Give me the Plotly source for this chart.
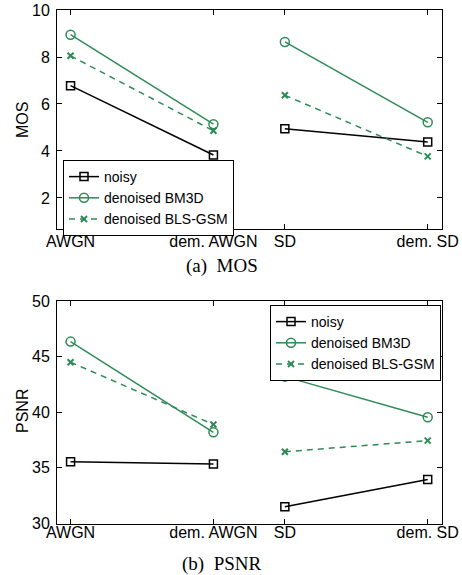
import plotly.graph_objects as go

# Test conditions along the horizontal axis
categories = ["AWGN", "dem. AWGN", "SD", "dem. SD"]
series_names = ["noisy", "denoised BM3D", "denoised BLS-GSM"]

# Mean opinion scores
mos_noisy = [6.78, 3.83, 4.95, 4.38]
mos_bm3d = [8.95, 5.14, 8.64, 5.22]
mos_blsgsm = [8.05, 4.86, 6.37, 3.77]

# PSNR (dB)
psnr_noisy = [35.55, 35.35, 31.5, 33.95]
psnr_bm3d = [46.35, 38.2, 43.2, 39.55]
psnr_blsgsm = [44.5, 38.9, 36.45, 37.45]

# Horizontal placement: AWGN pair and SD pair, each pair joined by a line
cat_x = [1.0, 2.0, 2.5, 3.5]

GREEN = "#2e8b57"
FONT = "Liberation Sans, Arial, sans-serif"
SERIF = "Liberation Serif, Times New Roman, serif"

styles = [
    dict(color="black", dash="solid", symbol="square-open", size=8, mlw=1.5),
    dict(color=GREEN, dash="solid", symbol="circle-open", size=9, mlw=1.5),
    dict(color=GREEN, dash="6px,5px", symbol="x-thin", size=6, mlw=2),
]


def pairs(vals):
    xs = [cat_x[0], cat_x[1], None, cat_x[2], cat_x[3]]
    ys = [vals[0], vals[1], None, vals[2], vals[3]]
    return xs, ys


fig = go.Figure()

panels = [
    ("x", "y", "legend", [mos_noisy, mos_bm3d, mos_blsgsm]),
    ("x2", "y2", "legend2", [psnr_noisy, psnr_bm3d, psnr_blsgsm]),
]

for xa, ya, lg, data in panels:
    for name, vals, st in zip(series_names, data, styles):
        xs, ys = pairs(vals)
        fig.add_trace(go.Scatter(
            x=xs, y=ys, name=name, mode="lines+markers",
            xaxis=xa, yaxis=ya, legend=lg, connectgaps=False,
            line=dict(color=st["color"], width=1.5, dash=st["dash"]),
            marker=dict(symbol=st["symbol"], size=st["size"], color=st["color"],
                        line=dict(color=st["color"], width=st["mlw"])),
        ))

W, H = 462, 575
x_dom = [57 / W, 442 / W]
top_dom = [1 - 229 / H, 1 - 10 / H]
bot_dom = [1 - 523.5 / H, 1 - 301 / H]

common_x = dict(
    range=[0.905, 3.6], tickvals=cat_x, ticktext=categories,
    ticks="inside", ticklen=5, tickcolor="black", showline=True,
    linecolor="black", linewidth=1, mirror="ticks", showgrid=False,
    zeroline=False, tickfont=dict(family=FONT, size=16, color="black"),
    domain=x_dom, automargin=False,
)
common_y = dict(
    ticks="inside", ticklen=5, tickcolor="black", showline=True,
    linecolor="black", linewidth=1, mirror="ticks", showgrid=False,
    zeroline=False, tickfont=dict(family=FONT, size=16, color="black"),
    ticklabelstandoff=3, automargin=False,
)

legend_common = dict(
    bgcolor="white", bordercolor="black", borderwidth=1,
    font=dict(family=FONT, size=14, color="black"),
    itemwidth=30, tracegroupgap=0,
)


def label(text, x, y, size=16, family=FONT, angle=0):
    return dict(text=text, x=x / W, y=1 - y / H, xref="paper", yref="paper",
                xanchor="center", yanchor="middle", textangle=angle,
                showarrow=False, font=dict(family=family, size=size, color="black"))


fig.update_layout(
    width=W, height=H,
    margin=dict(l=0, r=0, t=0, b=0, autoexpand=False),
    paper_bgcolor="white", plot_bgcolor="white",
    showlegend=True,
    xaxis=dict(common_x, anchor="y", ticklabelstandoff=-2),
    yaxis=dict(common_y, anchor="x", domain=top_dom, range=[0.68, 10],
               tickvals=[2, 4, 6, 8, 10]),
    xaxis2=dict(common_x, anchor="y2", ticklabelstandoff=-6),
    yaxis2=dict(common_y, anchor="x2", domain=bot_dom, range=[30, 50],
                tickvals=[30, 35, 40, 45, 50]),
    legend=dict(legend_common, x=63 / W, y=1 - 160 / H,
                xanchor="left", yanchor="top"),
    legend2=dict(legend_common, x=441 / W, y=1 - 305 / H,
                 xanchor="right", yanchor="top"),
    annotations=[
        label("MOS", 22, 120, angle=-90),
        label("PSNR", 22, 411, angle=-90),
        label("(a)  MOS", 222, 266, size=19, family=SERIF),
        label("(b)  PSNR", 222, 564, size=19, family=SERIF),
    ],
)

fig.write_html("out.html")
